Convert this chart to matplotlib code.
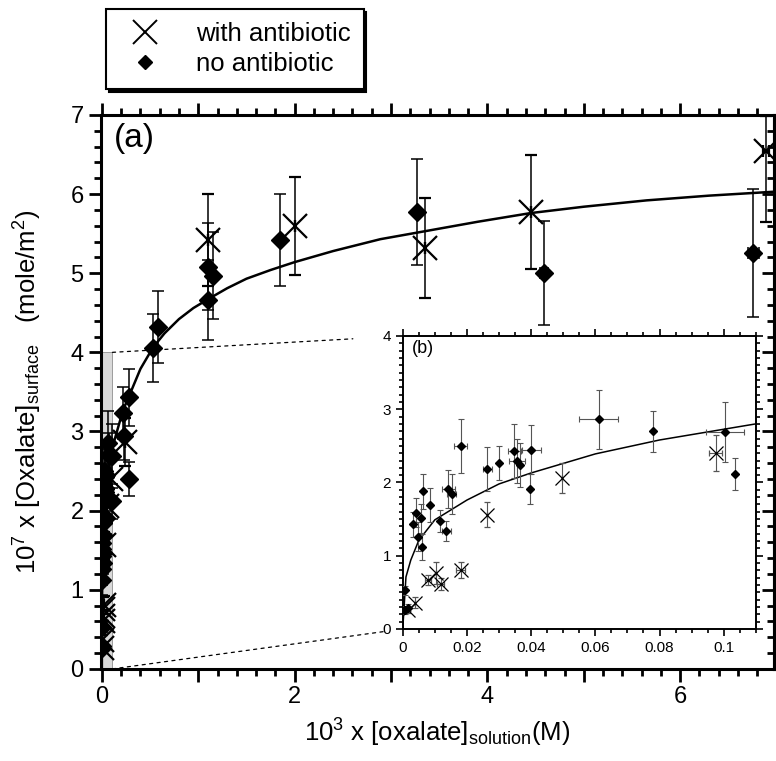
import matplotlib
matplotlib.use("Agg")
import matplotlib.pyplot as plt
from matplotlib.ticker import MultipleLocator, FuncFormatter
from matplotlib.patches import Rectangle, ConnectionPatch
from matplotlib.lines import Line2D

plt.rcParams['font.family'] = ['Liberation Sans', 'DejaVu Sans']
plt.rcParams['mathtext.fontset'] = 'custom'
plt.rcParams['mathtext.rm'] = 'Liberation Sans'
plt.rcParams['mathtext.it'] = 'Liberation Sans:italic'
plt.rcParams['mathtext.bf'] = 'Liberation Sans:bold'

# ---- low concentration data (inset b, also shown in a) ----
no_x_low = [0.0006, 0.0016, 0.0008, 0.0032, 0.0041, 0.0047, 0.0057, 0.0059, 0.0063,
            0.0084, 0.0116, 0.0136, 0.0142, 0.0152, 0.0181, 0.0264, 0.0300, 0.0347,
            0.0355, 0.0366, 0.0395, 0.0400, 0.0610, 0.0780, 0.1004, 0.1035]
no_y_low = [0.26, 0.29, 0.53, 1.43, 1.59, 1.26, 1.51, 1.12, 1.88,
            1.69, 1.47, 1.34, 1.91, 1.84, 2.50, 2.19, 2.27, 2.43,
            2.29, 2.24, 1.91, 2.45, 2.86, 2.70, 2.69, 2.12]
no_yerr_low = [0.05, 0.05, 0.06, 0.17, 0.20, 0.20, 0.20, 0.18, 0.24,
               0.23, 0.15, 0.14, 0.26, 0.27, 0.37, 0.30, 0.23, 0.37,
               0.30, 0.30, 0.20, 0.33, 0.40, 0.28, 0.41, 0.22]
no_xerr_low = [0, 0, 0, 0, 0, 0, 0, 0, 0,
               0, 0, 0.0015, 0.002, 0.0015, 0.002, 0.0015, 0, 0.002,
               0.0025, 0, 0, 0.003, 0.006, 0, 0.006, 0]

ab_x_low = [0.0017, 0.0037, 0.0079, 0.0105, 0.0118, 0.0180, 0.0264, 0.0496, 0.0975]
ab_y_low = [0.26, 0.36, 0.67, 0.76, 0.61, 0.81, 1.56, 2.06, 2.40]
ab_yerr_low = [0.04, 0.07, 0.07, 0.15, 0.08, 0.11, 0.17, 0.21, 0.25]
ab_xerr_low = [0, 0, 0.001, 0, 0.001, 0.0015, 0, 0, 0.002]

# ---- higher concentration data (only in a) ----
no_x_high = [0.28, 0.23, 0.22, 0.28, 0.53, 0.58, 1.10, 1.10, 1.15, 1.85, 3.27, 4.59, 6.76]
no_y_high = [2.40, 2.94, 3.23, 3.43, 4.05, 4.32, 4.66, 5.08, 4.97, 5.42, 5.77, 5.00, 5.26]
no_yerr_high = [0.21, 0.30, 0.33, 0.36, 0.43, 0.46, 0.51, 0.55, 0.55, 0.58, 0.67, 0.66, 0.81]
no_xerr_high = [0, 0, 0, 0, 0, 0, 0, 0, 0, 0, 0, 0.04, 0.06]

ab_x_high = [0.24, 1.10, 2.00, 3.35, 4.45, 6.89]
ab_y_high = [2.87, 5.42, 5.60, 5.32, 5.77, 6.55]
ab_yerr_lo = [0.30, 0.58, 0.62, 0.63, 0.72, 0.90]
ab_yerr_hi = [0.30, 0.58, 0.62, 0.63, 0.72, 0.43]
ab_xerr_high = [0, 0, 0, 0, 0, 0.03]

# fitted isotherm
fit_x = [0, 0.001, 0.0025, 0.005, 0.01, 0.02, 0.03, 0.04, 0.06, 0.08, 0.11,
         0.22, 0.28, 0.4, 0.53, 0.65, 0.8, 0.95, 1.1, 1.3, 1.5, 1.75, 2.0, 2.4,
         2.89, 3.35, 3.9, 4.45, 5.0, 5.65, 6.3, 6.98]
fit_y = [0, 0.71, 0.94, 1.21, 1.49, 1.76, 1.98, 2.13, 2.39, 2.58, 2.80,
         3.27, 3.44, 3.79, 4.06, 4.24, 4.42, 4.56, 4.67, 4.81, 4.93, 5.04, 5.14, 5.28,
         5.43, 5.53, 5.65, 5.76, 5.84, 5.92, 5.98, 6.03]

fig = plt.figure(figsize=(7.76, 7.61), dpi=100)
ax = fig.add_axes([0.130, 0.121, 0.867, 0.728])

# zoom region shading
ax.add_patch(Rectangle((0, 0), 0.11, 4.0, facecolor='#d9d9d9', edgecolor='#909090',
                       lw=0.6, zorder=0))

ax.plot(fit_x, fit_y, color='black', lw=1.8, zorder=3)

ax.errorbar(no_x_low + no_x_high, no_y_low + no_y_high,
            yerr=no_yerr_low + no_yerr_high, xerr=no_xerr_low + no_xerr_high,
            fmt='D', color='black', ms=9, ecolor='black', elinewidth=1.1,
            capsize=4, capthick=1.1, zorder=4)
ax.errorbar(ab_x_low, ab_y_low, yerr=ab_yerr_low, xerr=ab_xerr_low,
            fmt='x', color='black', ms=17, mew=1.6, ecolor='black', elinewidth=1.1,
            capsize=4, capthick=1.1, zorder=4)
ax.errorbar(ab_x_high, ab_y_high, yerr=[ab_yerr_lo, ab_yerr_hi], xerr=ab_xerr_high,
            fmt='x', color='black', ms=17, mew=1.6, ecolor='black', elinewidth=1.1,
            capsize=4, capthick=1.1, zorder=4)

ax.set_xlim(-0.01, 6.97)
ax.set_ylim(0, 7)
ax.xaxis.set_major_locator(MultipleLocator(1))
ax.xaxis.set_minor_locator(MultipleLocator(0.2))
ax.xaxis.set_major_formatter(FuncFormatter(lambda v, p: '%d' % round(v) if round(v) % 2 == 0 else ''))
ax.yaxis.set_major_locator(MultipleLocator(1))
ax.yaxis.set_minor_locator(MultipleLocator(0.2))
ax.tick_params(axis='x', which='both', direction='out', top=True, labelsize=17, width=2)
ax.tick_params(axis='y', which='both', direction='out', right=False, labelsize=17, width=2)
ax.tick_params(which='major', length=9)
ax.tick_params(which='minor', length=5)
for s in ax.spines.values():
    s.set_linewidth(2.2)

sec = ax.secondary_yaxis('right')
sec.yaxis.set_major_locator(MultipleLocator(1))
sec.yaxis.set_minor_locator(MultipleLocator(0.2))
sec.tick_params(which='both', direction='in', width=2, labelright=False)
sec.tick_params(which='major', length=9)
sec.tick_params(which='minor', length=5)
sec.spines['right'].set_linewidth(2.2)

ax.set_xlabel(r'10$^3$ x [oxalate]$_{\mathrm{solution}}$(M)', fontsize=18.5, labelpad=6)
ax.set_ylabel(r'10$^7$ x [Oxalate]$_{\mathrm{surface}}$   (mole/m$^2$)', fontsize=18.5)
ax.yaxis.set_label_coords(-0.085, 0.5)
ax.text(0.02, 0.985, '(a)', transform=ax.transAxes, fontsize=24, va='top', ha='left')

# ---- inset (b) ----
axin = fig.add_axes([0.519, 0.1735, 0.455, 0.385])
axin.plot(fit_x[:11], fit_y[:11], color='black', lw=1.1, zorder=3)
axin.errorbar(no_x_low, no_y_low, yerr=no_yerr_low, xerr=no_xerr_low,
              fmt='D', color='black', ms=4.5, ecolor='#555555', elinewidth=0.8,
              capsize=2.5, capthick=0.8, zorder=4)
axin.errorbar(ab_x_low, ab_y_low, yerr=ab_yerr_low, xerr=ab_xerr_low,
              fmt='x', color='black', ms=10, mew=0.9, ecolor='#555555', elinewidth=0.8,
              capsize=2.5, capthick=0.8, zorder=4)
axin.set_xlim(0, 0.11)
axin.set_ylim(0, 4)
axin.xaxis.set_major_locator(MultipleLocator(0.02))
axin.xaxis.set_minor_locator(MultipleLocator(0.005))
axin.xaxis.set_major_formatter(FuncFormatter(lambda v, p: '0' if abs(v) < 1e-9 else '%g' % round(v, 3)))
axin.yaxis.set_major_locator(MultipleLocator(1))
axin.yaxis.set_minor_locator(MultipleLocator(0.1))
axin.tick_params(which='both', direction='out', top=True, right=True, labelsize=11, width=1.2)
axin.tick_params(which='major', length=5)
axin.tick_params(which='minor', length=3)
for s in axin.spines.values():
    s.set_linewidth(1.4)
axin.text(0.025, 0.985, '(b)', transform=axin.transAxes, fontsize=13, va='top', ha='left')

# dotted lines from the shaded box towards the inset corners
for yb, gap in ((4.0, 36), (0.0, 12)):
    con = ConnectionPatch(xyA=(0.11, yb), coordsA=ax.transData,
                          xyB=(0, yb), coordsB=axin.transData,
                          linestyle=(0, (2.5, 3.5)), color='black', lw=0.9,
                          shrinkB=gap)
    fig.add_artist(con)

# legend above the plot
h1 = Line2D([], [], marker='x', color='black', ls='none', ms=17, mew=1.4)
h2 = Line2D([], [], marker='D', color='black', ls='none', ms=7.5)
fig.legend([h1, h2], ['with antibiotic', 'no antibiotic'], loc='upper left',
           bbox_to_anchor=(0.137, 0.988), fontsize=18.5, frameon=True, fancybox=False,
           shadow={'color': 'black', 'alpha': 1}, edgecolor='black',
           handlelength=2.0, handletextpad=1.0, labelspacing=0.25, borderpad=0.5,
           borderaxespad=0)
fig.legends[0].get_frame().set_linewidth(1.5)

fig.savefig('out.png', dpi=100)
